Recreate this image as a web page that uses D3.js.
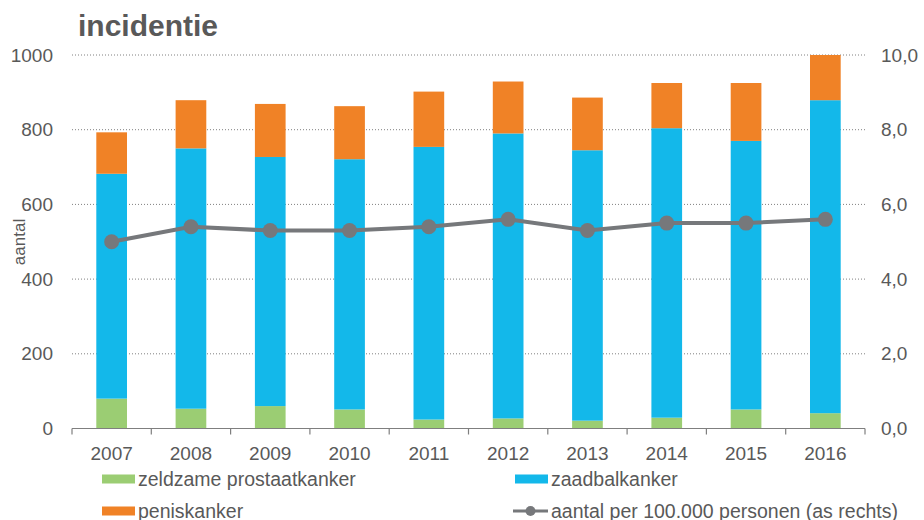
<!DOCTYPE html>
<html><head><meta charset="utf-8">
<script src="https://cdn.jsdelivr.net/npm/d3@7"></script>
<style>body{margin:0;background:#fff}svg{display:block;font-family:"Liberation Sans",Arial,sans-serif}</style>
</head><body><svg id="c" width="924" height="520"></svg>
<script>
const years = ["2007","2008","2009","2010","2011","2012","2013","2014","2015","2016"];
const prostaat = [80,53,60,51,24,27,21,29,51,41];
const zaadbal = [602,697,667,670,730,763,724,775,719,838];
const penis = [111,129,142,142,148,139,141,121,155,121];
const rate = [5.0,5.4,5.3,5.3,5.4,5.6,5.3,5.5,5.5,5.6];
const leftTicks = [0,200,400,600,800,1000];
const rightTicks = [0,2,4,6,8,10];
const seriesNames = ["zeldzame prostaatkanker","zaadbalkanker","peniskanker"];
const lineName = "aantal per 100.000 personen (as rechts)";
const colors = ["#9BCD73","#13B8EA","#F08226"];
const lineColor = "#76787B";
const textColor = "#595959";

const svg = d3.select("#c");
const x = d3.scaleBand().domain(years).range([72,865]).paddingInner(0.613).paddingOuter(0.3065);
const y = d3.scaleLinear().domain([0,1000]).range([428.5,55]);
const y2 = d3.scaleLinear().domain([0,10]).range([428.5,55]);

// title
svg.append("text").attr("x",78).attr("y",36).text("incidentie")
  .attr("font-size",30).attr("font-weight","bold").attr("fill",textColor);

// gridlines
svg.append("g").selectAll("line").data(leftTicks.filter(d=>d>0)).join("line")
  .attr("x1",72).attr("x2",865).attr("y1",d=>y(d)).attr("y2",d=>y(d))
  .attr("stroke","#808080").attr("stroke-width",1).attr("stroke-dasharray","1,2");

// stacked bars
const rows = years.map((yr,i)=>({year:yr, p:prostaat[i], z:zaadbal[i], n:penis[i]}));
const stack = d3.stack().keys(["p","z","n"])(rows);
svg.append("g").selectAll("g").data(stack).join("g").attr("fill",(d,i)=>colors[i])
  .selectAll("rect").data(d=>d).join("rect")
  .attr("x",d=>x(d.data.year)).attr("width",x.bandwidth())
  .attr("y",d=>y(d[1])).attr("height",d=>y(d[0])-y(d[1]));

// x axis
const xAxis = svg.append("g").attr("transform","translate(0,428.5)");
xAxis.append("line").attr("x1",72).attr("x2",865).attr("stroke","#7f7f7f").attr("stroke-width",1.2);
const bounds = d3.range(years.length+1).map(i=>72 + i*x.step());
xAxis.selectAll("line.t").data(bounds).join("line").attr("class","t")
  .attr("x1",d=>d).attr("x2",d=>d).attr("y1",0).attr("y2",6).attr("stroke","#7f7f7f").attr("stroke-width",1.2);
xAxis.selectAll("text").data(years).join("text")
  .attr("x",d=>x(d)+x.bandwidth()/2).attr("y",31).attr("text-anchor","middle")
  .attr("font-size",19).attr("fill",textColor).text(d=>d);

// left axis labels
svg.append("g").selectAll("text").data(leftTicks).join("text")
  .attr("x",53).attr("y",d=>y(d)).attr("dy","0.35em").attr("text-anchor","end")
  .attr("font-size",19).attr("fill",textColor).text(d=>d);
// right axis labels
const fmt = d=>d3.format(".1f")(d).replace(".",",");
svg.append("g").selectAll("text").data(rightTicks).join("text")
  .attr("x",881).attr("y",d=>y2(d)).attr("dy","0.35em").attr("text-anchor","start")
  .attr("font-size",19).attr("fill",textColor).text(fmt);

// y label
svg.append("text").attr("transform","translate(25,242) rotate(-90)").attr("text-anchor","middle")
  .attr("font-size",17).attr("fill",textColor).text("aantal");

// line
const line = d3.line().x((d,i)=>x(years[i])+x.bandwidth()/2).y(d=>y2(d));
svg.append("path").datum(rate).attr("d",line).attr("fill","none")
  .attr("stroke",lineColor).attr("stroke-width",4);
svg.append("g").selectAll("circle").data(rate).join("circle")
  .attr("cx",(d,i)=>x(years[i])+x.bandwidth()/2).attr("cy",d=>y2(d)).attr("r",7.5).attr("fill",lineColor);

// legend
const leg = svg.append("g");
const items = [
  {name:seriesNames[0], color:colors[0], x:102, y:479, type:"rect"},
  {name:seriesNames[1], color:colors[1], x:515, y:479, type:"rect"},
  {name:seriesNames[2], color:colors[2], x:102, y:511, type:"rect"},
  {name:lineName, color:lineColor, x:513, y:511, type:"line"}
];
items.forEach(it=>{
  if(it.type==="rect"){
    leg.append("rect").attr("x",it.x).attr("y",it.y-4.5).attr("width",33).attr("height",9).attr("fill",it.color);
  } else {
    leg.append("line").attr("x1",it.x).attr("x2",it.x+35).attr("y1",it.y).attr("y2",it.y)
      .attr("stroke",it.color).attr("stroke-width",3);
    leg.append("circle").attr("cx",it.x+17.5).attr("cy",it.y).attr("r",5).attr("fill",it.color);
  }
  leg.append("text").attr("x",it.x+35+ (it.type==="rect"?1:3)).attr("y",it.y+6.5)
    .attr("font-size",19.5).attr("fill",textColor).text(it.name);
});
</script></body></html>
